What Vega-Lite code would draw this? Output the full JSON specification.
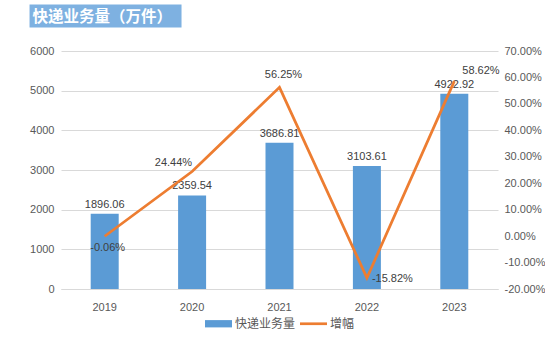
{
  "$schema": "https://vega.github.io/schema/vega-lite/v6.json",
  "padding": {"left": 29, "top": 9, "right": 0, "bottom": 0},
  "background": "white",
  "config": {
    "locale": {"number": {"decimal": ".", "thousands": ",", "grouping": [3], "currency": ["$", ""], "minus": "-"}},
    "axis": {"labelFont": "Liberation Sans", "labelFontSize": 11, "labelColor": "#595959"},
    "text": {"font": "Liberation Sans", "fontSize": 11},
    "legend": {"layout": {"bottom": {"anchor": "middle"}}}
  },
  "title": {
    "text": "快递业务量（万件）",
    "anchor": "start",
    "frame": "bounds",
    "orient": "top",
    "font": "Noto Sans CJK SC",
    "fontSize": 15.5,
    "fontWeight": "bold",
    "color": "white",
    "baseline": "bottom",
    "dx": 3,
    "dy": -3,
    "offset": 2,
    "encode": {"group": {"update": {"fill": {"value": "#7EB1E1"}, "width": {"value": 152}, "height": {"value": -23}}}}
  },
  "width": 437,
  "height": 238,
  "view": {"stroke": null},
  "data": {"values": [
    {"year": "2019", "volume": 1896.06, "growth": -0.0006},
    {"year": "2020", "volume": 2359.54, "growth": 0.2444},
    {"year": "2021", "volume": 3686.81, "growth": 0.5625},
    {"year": "2022", "volume": 3103.61, "growth": -0.1582},
    {"year": "2023", "volume": 4922.92, "growth": 0.5862}
  ]},
  "encoding": {
    "x": {"field": "year", "type": "ordinal", "scale": {"paddingInner": 0, "paddingOuter": 0},
          "axis": {"labelAngle": 0, "ticks": false, "domainColor": "#D9D9D9", "labelPadding": 12, "title": null}}
  },
  "layer": [
    {
      "encoding": {
        "y": {"field": "volume", "type": "quantitative", "scale": {"domain": [0, 6000], "nice": false},
              "axis": {"title": null, "format": "d", "values": [0, 1000, 2000, 3000, 4000, 5000, 6000], "grid": true, "gridColor": "#D9D9D9", "domain": false, "ticks": false, "labelPadding": 7}}
      },
      "layer": [
        {
          "mark": {"type": "bar", "size": 28},
          "encoding": {
            "color": {"datum": "快递业务量", "scale": {"domain": ["快递业务量", "增幅"], "range": ["#5B9BD5", "#ED7D31"]},
              "legend": {"orient": "bottom", "direction": "horizontal", "title": null,
                "symbolType": {"expr": "datum.value === '增幅' ? 'M-1,-0.1H1V0.1H-1Z' : 'M-1,-0.27H1V0.27H-1Z'"},
                "symbolSize": 729, "symbolStrokeWidth": 0, "labelFontSize": 12, "labelColor": "#595959", "labelFont": "Noto Sans CJK SC",
                "offset": -2, "columnPadding": 4, "labelOffset": 3}}
          }
        },
        {
          "mark": {"type": "text", "baseline": "middle", "dy": -9, "color": "#404040"},
          "encoding": {"text": {"field": "volume", "type": "quantitative", "format": ".2f"}}
        }
      ]
    },
    {
      "encoding": {
        "y": {"field": "growth", "type": "quantitative", "scale": {"domain": [-0.2, 0.7], "nice": false},
              "axis": {"orient": "right", "title": null, "format": ".2%", "values": [-0.2, -0.1, 0, 0.1, 0.2, 0.3, 0.4, 0.5, 0.6, 0.7], "grid": false, "domain": false, "ticks": false, "labelPadding": 6}}
      },
      "layer": [
        {
          "mark": {"type": "line", "strokeWidth": 2.75},
          "encoding": {"color": {"datum": "增幅"}}
        },
        {
          "transform": [{"filter": "datum.year == '2019'"}],
          "mark": {"type": "text", "align": "center", "baseline": "middle", "dx": 3, "dy": 12, "color": "#404040"},
          "encoding": {"text": {"field": "growth", "type": "quantitative", "format": ".2%"}}
        },
        {
          "transform": [{"filter": "datum.year == '2020'"}],
          "mark": {"type": "text", "align": "right", "baseline": "middle", "dx": 0, "dy": -8, "color": "#404040"},
          "encoding": {"text": {"field": "growth", "type": "quantitative", "format": ".2%"}}
        },
        {
          "transform": [{"filter": "datum.year == '2021'"}],
          "mark": {"type": "text", "align": "center", "baseline": "middle", "dx": 4, "dy": -12, "color": "#404040"},
          "encoding": {"text": {"field": "growth", "type": "quantitative", "format": ".2%"}}
        },
        {
          "transform": [{"filter": "datum.year == '2022'"}],
          "mark": {"type": "text", "align": "left", "baseline": "middle", "dx": 5, "dy": 1, "color": "#404040"},
          "encoding": {"text": {"field": "growth", "type": "quantitative", "format": ".2%"}}
        },
        {
          "transform": [{"filter": "datum.year == '2023'"}],
          "mark": {"type": "text", "align": "left", "baseline": "middle", "dx": 8, "dy": -10, "color": "#404040"},
          "encoding": {"text": {"field": "growth", "type": "quantitative", "format": ".2%"}}
        }
      ]
    }
  ],
  "resolve": {"scale": {"y": "independent"}}
}
